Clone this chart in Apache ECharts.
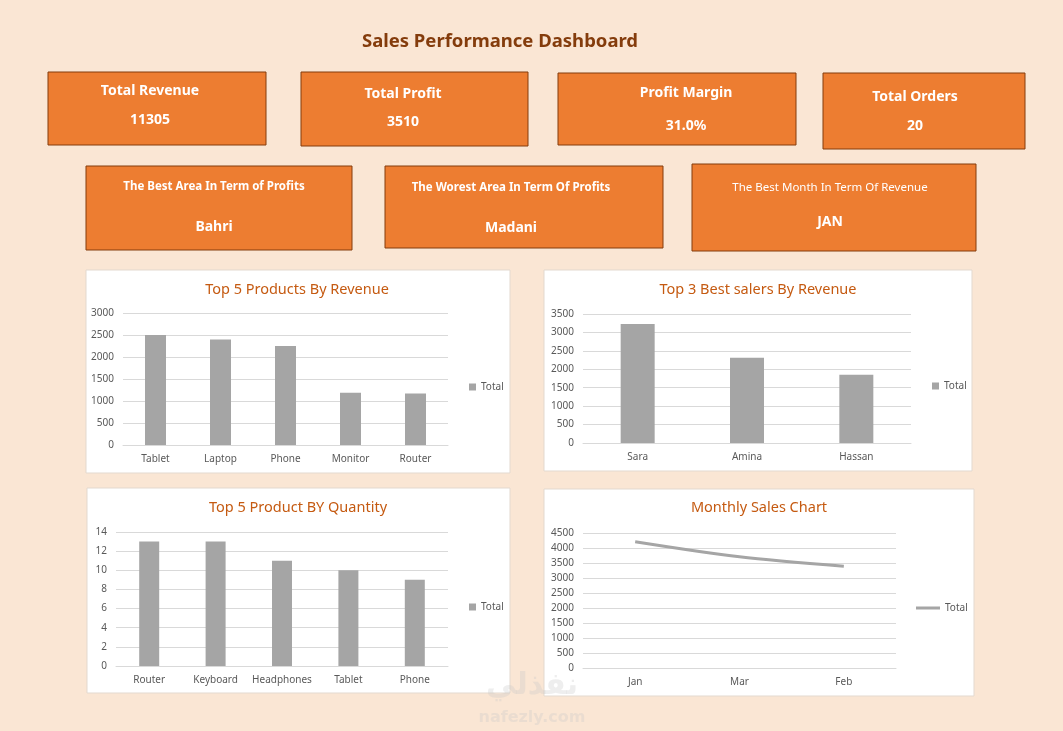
<!DOCTYPE html>
<html>
<head>
<meta charset="utf-8">
<script src="https://cdn.jsdelivr.net/npm/echarts@6/dist/echarts.min.js"></script>
<style>
  html, body { margin: 0; padding: 0; background: #FAE6D4; }
  #main { width: 1063px; height: 731px; }
</style>
</head>
<body>
<div id="main"></div>
<script>
// data
var dashTitle = 'Sales Performance Dashboard';
var kpiLabels = ['Total Revenue', 'Total Profit', 'Profit Margin', 'Total Orders'];
var kpiValues = ['11305', '3510', '31.0%', '20'];
var bestLabels = ['The Best Area In Term of Profits', 'The Worest Area In Term Of Profits', 'The Best Month In Term Of Revenue'];
var bestValues = ['Bahri', 'Madani', 'JAN'];

var revProducts = ['Tablet', 'Laptop', 'Phone', 'Monitor', 'Router'];
var revValues = [2500, 2400, 2250, 1190, 1170];
var sellers = ['Sara', 'Amina', 'Hassan'];
var sellerValues = [3230, 2310, 1850];
var qtyProducts = ['Router', 'Keyboard', 'Headphones', 'Tablet', 'Phone'];
var qtyValues = [13, 13, 11, 10, 9];
var months = ['Jan', 'Mar', 'Feb'];
var monthValues = [4210, 3705, 3390];

var chartTitles = ['Top 5 Products By Revenue', 'Top 3 Best salers By Revenue', 'Top 5 Product BY Quantity', 'Monthly Sales Chart'];

var FONT = '"Noto Sans", "Liberation Sans", sans-serif';
var ORANGE = '#ED7D31', BROWN = '#843C0C', GREY = '#A5A5A5', LABEL = '#595959';

// box layout (pixels)
var kpiBoxes = [[48, 72, 218, 73], [301, 72, 227, 74], [558, 73, 238, 72], [823, 73, 202, 76]];
var kpiText = [[150, 91, 120], [403, 94, 122], [686, 93, 126], [915, 97, 126]];
var bestBoxes = [[86, 166, 266, 84], [385, 166, 278, 82], [692, 164, 284, 87]];
var bestText = [[214, 187, 227], [511, 188, 228], [830, 188, 222]];
var panels = [[86, 270, 424, 203], [544, 270, 428, 201], [87, 488, 423, 205], [544, 489, 430, 207]];
var titlePos = [[297, 290], [758, 290], [298, 508], [759, 508]];

var graphics = [];
panels.forEach(function (p) {
  graphics.push({ type: 'rect', z: -10, shape: { x: p[0], y: p[1], width: p[2], height: p[3] },
    style: { fill: '#FFFFFF', stroke: '#E3D9CF', lineWidth: 1 } });
});
graphics.push({ type: 'text', x: 500, y: 42, style: { text: dashTitle, fill: BROWN,
  font: 'bold 18.5px ' + FONT, textAlign: 'center', textVerticalAlign: 'middle' } });

kpiBoxes.forEach(function (b, i) {
  graphics.push({ type: 'rect', shape: { x: b[0], y: b[1], width: b[2], height: b[3] },
    style: { fill: ORANGE, stroke: BROWN, lineWidth: 1 } });
  var t = kpiText[i];
  graphics.push({ type: 'text', x: t[0], y: t[1], style: { text: kpiLabels[i], fill: '#FFFFFF',
    font: 'bold 14px ' + FONT, textAlign: 'center', textVerticalAlign: 'middle' } });
  graphics.push({ type: 'text', x: t[0], y: t[2], style: { text: kpiValues[i], fill: '#FFFFFF',
    font: 'bold 14px ' + FONT, textAlign: 'center', textVerticalAlign: 'middle' } });
});
bestBoxes.forEach(function (b, i) {
  graphics.push({ type: 'rect', shape: { x: b[0], y: b[1], width: b[2], height: b[3] },
    style: { fill: ORANGE, stroke: BROWN, lineWidth: 1 } });
  var t = bestText[i];
  graphics.push({ type: 'text', x: t[0], y: t[1], style: { text: bestLabels[i], fill: '#FFFFFF',
    font: (i === 2 ? '' : 'bold ') + '11.5px ' + FONT, textAlign: 'center', textVerticalAlign: 'middle' } });
  graphics.push({ type: 'text', x: t[0], y: t[2], style: { text: bestValues[i], fill: '#FFFFFF',
    font: 'bold 14px ' + FONT, textAlign: 'center', textVerticalAlign: 'middle' } });
});
chartTitles.forEach(function (s, i) {
  graphics.push({ type: 'text', x: titlePos[i][0], y: titlePos[i][1], style: { text: s, fill: '#C55A11',
    font: '14.5px ' + FONT, textAlign: 'center', textVerticalAlign: 'middle' } });
});
// faint watermark
graphics.push({ type: 'text', x: 532, y: 686, z: 50, style: { text: 'نفذلي', fill: 'rgba(200,200,200,0.3)',
  font: 'bold 30px "DejaVu Sans", sans-serif', textAlign: 'center', textVerticalAlign: 'middle' } });
graphics.push({ type: 'text', x: 532, y: 718, z: 50, style: { text: 'nafezly.com', fill: 'rgba(200,200,200,0.3)',
  font: 'bold 16px "DejaVu Sans", sans-serif', textAlign: 'center', textVerticalAlign: 'middle' } });

var grids = [
  { left: 123, top: 313, width: 325, height: 132 },
  { left: 583, top: 314, width: 328, height: 129 },
  { left: 116, top: 532, width: 332, height: 134 },
  { left: 583, top: 533, width: 313, height: 135 }
];

function xAxis(idx, cats) {
  return { type: 'category', gridIndex: idx, data: cats,
    axisLine: { lineStyle: { color: '#D9D9D9' } }, axisTick: { show: false },
    axisLabel: { color: LABEL, fontSize: 10, fontFamily: FONT, margin: 9, interval: 0 } };
}
function yAxis(idx, max, step) {
  return { type: 'value', gridIndex: idx, min: 0, max: max, interval: step,
    axisLine: { show: false }, axisTick: { show: false },
    splitLine: { lineStyle: { color: '#D9D9D9' } },
    axisLabel: { color: LABEL, fontSize: 10, fontFamily: FONT, margin: 9,
      formatter: function (v) { return String(v); } } };
}
function legend(left, top, isLine) {
  return { left: left, top: top, data: ['Total'], selectedMode: false,
    icon: 'rect', itemWidth: isLine ? 24 : 7, itemHeight: isLine ? 3 : 7,
    textStyle: { color: LABEL, fontSize: 10, fontFamily: FONT } };
}
function bars(idx, vals, width) {
  return { type: 'bar', name: 'Total', xAxisIndex: idx, yAxisIndex: idx, data: vals,
    barWidth: width, itemStyle: { color: GREY }, silent: true };
}

var option = {
  backgroundColor: '#FAE6D4',
  animation: false,
  graphic: { elements: graphics },
  grid: grids,
  legend: [legend(464, 377, false), legend(927, 376, false), legend(464, 597, false), legend(911, 598, true)],
  xAxis: [xAxis(0, revProducts), xAxis(1, sellers), xAxis(2, qtyProducts), xAxis(3, months)],
  yAxis: [yAxis(0, 3000, 500), yAxis(1, 3500, 500), yAxis(2, 14, 2), yAxis(3, 4500, 500)],
  series: [
    bars(0, revValues, 21),
    bars(1, sellerValues, 34),
    bars(2, qtyValues, 20),
    { type: 'line', name: 'Total', xAxisIndex: 3, yAxisIndex: 3, data: monthValues,
      smooth: 0.3, showSymbol: false, lineStyle: { color: GREY, width: 3 },
      itemStyle: { color: GREY }, silent: true }
  ]
};

var chart = echarts.init(document.getElementById('main'));
chart.setOption(option);
</script>
</body>
</html>
